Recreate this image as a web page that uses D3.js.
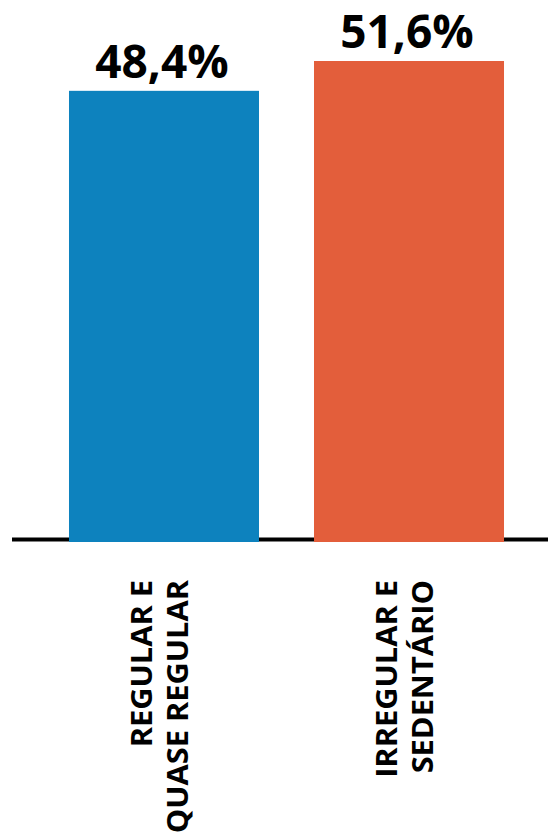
<!DOCTYPE html>
<html>
<head>
<meta charset="utf-8">
<script src="https://cdn.jsdelivr.net/npm/d3@7"></script>
<style>
  html, body { margin: 0; padding: 0; background: #fff; }
  svg { display: block; font-family: "Open Sans", "Noto Sans", sans-serif; }
</style>
</head>
<body>
<svg id="chart" width="548" height="833"></svg>
<script>
// Categories (each label split into its two lines)
const categories = ["regular", "irregular"];
const categoryLines = [["REGULAR E", "QUASE REGULAR"], ["IRREGULAR E", "SEDENTÁRIO"]];
// Share of each category, in percent
const values = [48.4, 51.6];
const valueLabels = ["48,4%", "51,6%"];
const colors = ["#0d82be", "#e35e3b"];

const svg = d3.select("#chart");
const W = 548;

const x = d3.scaleBand()
  .domain(categories)
  .range([41.5, 531.5])
  .paddingInner(0.2245)
  .paddingOuter(0.1122);

const y = d3.scaleLinear()
  .domain([0, 51.6])
  .range([542, 61]);

// baseline
svg.append("line")
  .attr("x1", 12).attr("x2", W)
  .attr("y1", 539.5).attr("y2", 539.5)
  .attr("stroke", "#000")
  .attr("stroke-width", 4);

// bars
svg.selectAll("rect.bar")
  .data(categories)
  .join("rect")
  .attr("class", "bar")
  .attr("x", d => x(d))
  .attr("width", x.bandwidth())
  .attr("y", (d, i) => y(values[i]))
  .attr("height", (d, i) => y(0) - y(values[i]))
  .attr("fill", (d, i) => colors[i]);

// value labels above bars
svg.selectAll("text.value")
  .data(categories)
  .join("text")
  .attr("class", "value")
  .attr("x", d => x(d) + x.bandwidth() / 2 - 2)
  .attr("y", (d, i) => y(values[i]) - 13)
  .attr("text-anchor", "middle")
  .attr("font-size", 46)
  .attr("font-weight", 700)
  .attr("fill", "#000")
  .text((d, i) => valueLabels[i]);

// rotated category labels below the baseline, slightly widened
const cat = svg.selectAll("text.cat")
  .data(categories)
  .join("text")
  .attr("class", "cat")
  .attr("transform", d => `translate(${x(d) + x.bandwidth() / 2},580) rotate(-90) scale(1.1,1)`)
  .attr("text-anchor", "end")
  .attr("font-size", 28)
  .attr("font-weight", 700)
  .attr("fill", "#000");

cat.each(function(d, i) {
  const t = d3.select(this);
  categoryLines[i].forEach((line, j) => {
    t.append("tspan")
      .attr("x", 0)
      .attr("y", -12 + j * 36)
      .text(line);
  });
});
</script>
</body>
</html>
